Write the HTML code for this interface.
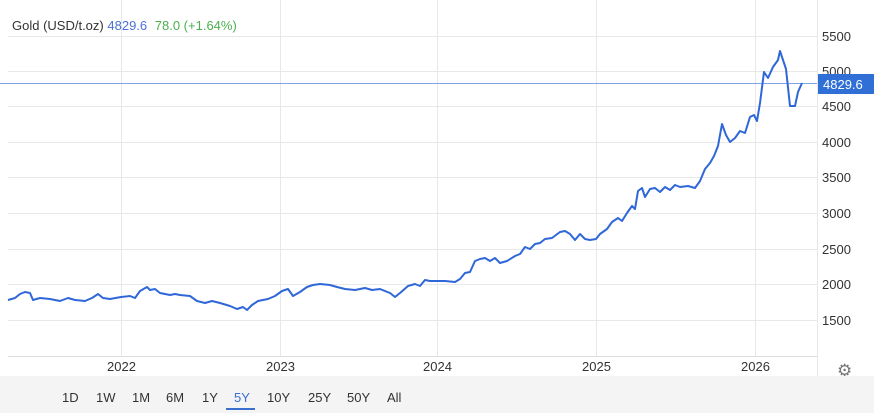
<!DOCTYPE html>
<html><head><style>
body{margin:0;width:874px;height:413px;background:#fff;font-family:"Liberation Sans",Arial,sans-serif;overflow:hidden;position:relative}
.bar{position:absolute;left:0;top:376px;width:874px;height:37px;background:#f4f4f4}
.b{position:absolute;top:390px;font-size:13px;color:#333}
</style></head><body>
<svg width="874" height="413" style="position:absolute;left:0;top:0">
<g stroke="#e8e8e8" stroke-width="1">
<line x1="8" x2="817" y1="36.5" y2="36.5"/><line x1="8" x2="817" y1="71.5" y2="71.5"/>
<line x1="8" x2="817" y1="106.5" y2="106.5"/><line x1="8" x2="817" y1="142.5" y2="142.5"/>
<line x1="8" x2="817" y1="177.5" y2="177.5"/><line x1="8" x2="817" y1="213.5" y2="213.5"/>
<line x1="8" x2="817" y1="249.5" y2="249.5"/><line x1="8" x2="817" y1="284.5" y2="284.5"/>
<line x1="8" x2="817" y1="320.5" y2="320.5"/>
<line x1="121.5" x2="121.5" y1="0" y2="356"/><line x1="280.5" x2="280.5" y1="0" y2="356"/>
<line x1="437.5" x2="437.5" y1="0" y2="356"/><line x1="596.5" x2="596.5" y1="0" y2="356"/>
<line x1="755.5" x2="755.5" y1="0" y2="356"/><line x1="817.5" x2="817.5" y1="0" y2="376"/>
</g>
<line x1="8" x2="817" y1="356.5" y2="356.5" stroke="#ddd"/>
<rect x="0" y="83" width="817" height="1" fill="#7fa3e6"/>
<polyline fill="none" stroke="#2f67d8" stroke-width="2" stroke-linejoin="round" points="
8,300 15,298 20,294 25,292 30,293 33,300 40,298 50,299 60,301 68,298 75,300 85,301 92,298 98,294 103,298 110,299 121,297 130,296 135,298 140,291 147,287 150,290 155,289 160,293 170,295 175,294 180,295 190,296 197,301 205,303 212,301 220,303 230,306 237,309 243,307 247,310 252,305 258,301 268,299 275,296 282,291 288,289 293,296 300,292 307,287 313,285 320,284 330,285 337,287 345,289 355,290 365,288 372,290 380,289 390,293 395,297 400,293 408,286 415,284 420,286 425,280 430,281 437,281 445,281 455,282 460,279 465,273 470,272 475,261 480,259 485,258 490,261 495,258 500,263 507,261 515,256 520,254 525,247 530,249 535,244 540,243 545,239 552,238 560,232 565,231 570,234 575,240 580,234 585,239 590,240 596,239 600,234 607,229 612,222 618,218 622,221 627,213 632,206 635,209 638,191 642,188 645,197 650,189 655,188 660,192 665,187 670,190 675,185 680,187 688,186 695,188 700,181 705,169 710,163 714,156 718,146 722,124 726,135 730,142 735,138 740,131 745,133 750,117 754,115 757,121 760,103 764,72 768,78 773,67 778,60 780,51 786,69 790,106 795,106 798,92 802,83"/>
<g font-size="13" fill="#333">
<text x="822" y="41">5500</text><text x="822" y="76">5000</text><text x="822" y="111">4500</text>
<text x="822" y="147">4000</text><text x="822" y="182">3500</text><text x="822" y="218">3000</text>
<text x="822" y="254">2500</text><text x="822" y="289">2000</text><text x="822" y="325">1500</text>
<text x="107" y="371">2022</text><text x="266" y="371">2023</text><text x="423" y="371">2024</text>
<text x="582" y="371">2025</text><text x="741" y="371">2026</text>
</g>
<rect x="818" y="74" width="56" height="20" fill="#2f6fd6"/>
<text x="823" y="89" font-size="13" fill="#fff">4829.6</text>
<text x="12" y="30" font-size="13"><tspan fill="#333">Gold (USD/t.oz)</tspan> <tspan fill="#4a72d4">4829.6</tspan>  <tspan fill="#4caf50" dx="4">78.0 (+1.64%)</tspan></text>
<text x="837" y="376" font-size="17" fill="#777">⚙</text>
</svg>
<div class="bar"></div>
<span class="b" style="left:62px">1D</span><span class="b" style="left:96px">1W</span>
<span class="b" style="left:132px">1M</span><span class="b" style="left:166px">6M</span>
<span class="b" style="left:202px">1Y</span><span class="b" style="left:234px;color:#3a6fd0">5Y</span>
<span class="b" style="left:267px">10Y</span><span class="b" style="left:308px">25Y</span>
<span class="b" style="left:347px">50Y</span><span class="b" style="left:387px">All</span>
<div style="position:absolute;left:226px;top:408px;width:29px;height:2px;background:#3a6fd0"></div>
</body></html>
